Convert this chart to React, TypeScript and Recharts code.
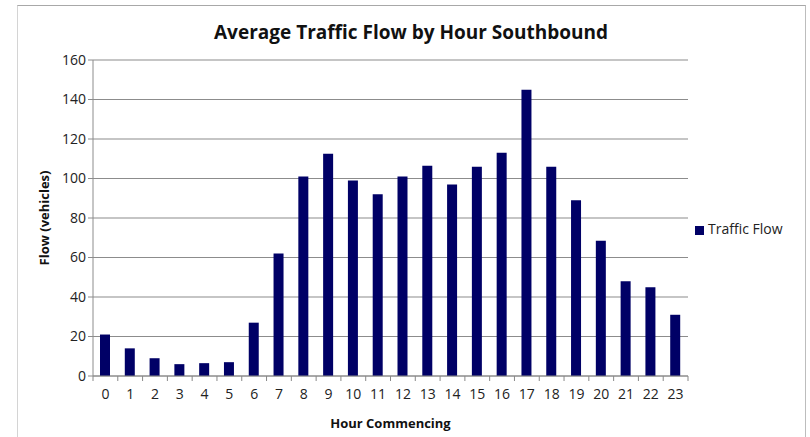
import { BarChart, Bar, XAxis, YAxis, CartesianGrid, Legend, Label } from 'recharts'

const HOURS = ['0', '1', '2', '3', '4', '5', '6', '7', '8', '9', '10', '11', '12', '13', '14', '15', '16', '17', '18', '19', '20', '21', '22', '23']
const FLOW = [21, 14, 9, 6, 6.5, 7, 27, 62, 101, 112.5, 99, 92, 101, 106.5, 97, 106, 113, 145, 106, 89, 68.5, 48, 45, 31]
const Y_TICKS = [0, 20, 40, 60, 80, 100, 120, 140, 160]

const data = HOURS.map((h, i) => ({ hour: h, 'Traffic Flow': FLOW[i] }))

const W = 810
const H = 437
const PLOT_LEFT = 93
const PLOT_RIGHT = 688
const LEGEND_W = 100
const BAND = (PLOT_RIGHT - PLOT_LEFT) / HOURS.length
const FONT = '"Open Sans", "Liberation Sans", sans-serif'

function HourTick({ x, y, payload, index }: { x: number; y: number; payload: { value: string }; index: number }) {
  const left = x - BAND / 2
  return (
    <g>
      <line x1={left} x2={left} y1={y - 8} y2={y - 3} stroke="#888" />
      {index === HOURS.length - 1 && <line x1={left + BAND} x2={left + BAND} y1={y - 8} y2={y - 3} stroke="#888" />}
      <text x={x} y={y + 15} textAnchor="middle" fill="#222" fontSize={14} fontFamily={FONT}>{payload.value}</text>
    </g>
  )
}

export default function App() {
  return (
    <div style={{ position: 'absolute', left: 0, top: 0, width: W, height: H, background: '#fff', overflow: 'hidden' }}>
      <div style={{ position: 'absolute', left: 17, top: 5, width: 787, height: 440, borderLeft: '1px solid #d4d4d4', borderRight: '1px solid #bdbdbd', borderTop: '1px solid #a8a8a8' }} />
      <div style={{ position: 'absolute', left: 0, width: 822, top: 19, textAlign: 'center', fontFamily: FONT, fontWeight: 700, fontSize: 19, color: '#111' }}>
        Average Traffic Flow by Hour Southbound
      </div>
      <BarChart width={W} height={H} data={data} margin={{ left: 0, right: W - PLOT_RIGHT - LEGEND_W, top: 60, bottom: 0 }} style={{ position: 'absolute', left: 0, top: 0 }}>
        <CartesianGrid vertical={false} stroke="#8c8c8c" strokeWidth={1.2} />
        <XAxis dataKey="hour" interval={0} stroke="#8c8c8c" tickLine={false} tick={HourTick} height={61}>
          <Label value="Hour Commencing" position="insideBottom" offset={9} style={{ fontFamily: FONT, fontWeight: 700, fontSize: 13, fill: '#111' }} />
        </XAxis>
        <YAxis width={PLOT_LEFT} domain={[0, 160]} ticks={Y_TICKS} stroke="#8c8c8c" tickSize={5} tick={{ fill: '#222', fontSize: 14, fontFamily: FONT }}>
          <Label value="Flow (vehicles)" angle={-90} position="insideLeft" offset={44} textAnchor="middle" style={{ fontFamily: FONT, fontWeight: 700, fontSize: 13, fill: '#111', textAnchor: 'middle' }} />
        </YAxis>
        <Legend
          layout="vertical"
          align="right"
          verticalAlign="top"
          iconType="square"
          iconSize={9}
          width={LEGEND_W}
          wrapperStyle={{ left: 695, top: 219, right: 'auto', fontFamily: FONT, fontSize: 14 }}
          formatter={(v) => <span style={{ color: '#222' }}>{v}</span>}
        />
        <Bar dataKey="Traffic Flow" fill="#000066" barSize={10} isAnimationActive={false} />
      </BarChart>
    </div>
  )
}
